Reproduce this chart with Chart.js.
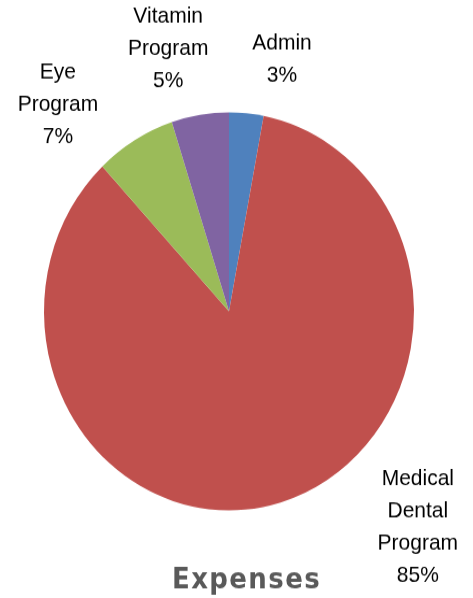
<!DOCTYPE html>
<html>
<head>
<meta charset="utf-8">
<script src="https://cdn.jsdelivr.net/npm/chart.js@4/dist/chart.umd.min.js"></script>
<style>
    html, body {
        margin: 0;
        padding: 0;
        background: #ffffff;
    }

    body {
        width: 473px;
        height: 598px;
        overflow: hidden;
    }

    /* the reference pie is slightly taller than wide, so the whole drawing is stretched */
    .chart-wrap {
        position: relative;
        width: 473px;
        height: 556px;
        transform: scale(1, 1.0755);
        transform-origin: 0 0;
    }
</style>
</head>
<body>
<div class="chart-wrap">
    <canvas id="chart"></canvas>
</div>
<script>
const categories = ['Admin', 'Medical Dental Program', 'Eye Program', 'Vitamin Program'];
const categoryLines = [['Admin'], ['Medical', 'Dental', 'Program'], ['Eye', 'Program'], ['Vitamin', 'Program']];
const percentValues = [3, 85, 7, 5];
const sliceColors = ['#4f81bd', '#c0504d', '#9bbb59', '#8064a2'];
const chartTitle = 'Expenses';

// where each label sits: angle clockwise from 12 o'clock and distance in pie radii
const labelPlacement = [
    { angle: 12.75, dist: 1.298 },
    { angle: 136.8, dist: 1.491 },
    { angle: 318.4, dist: 1.393 },
    { angle: 346.0, dist: 1.359 }
];

const sliceLabels = {
    id: 'sliceLabels',
    afterDraw(chart) {
        const ctx = chart.ctx;
        const arcs = chart.getDatasetMeta(0).data;

        ctx.save();
        ctx.fillStyle = '#000000';
        ctx.font = '21px "Liberation Sans", Arial, sans-serif';
        ctx.textAlign = 'center';
        ctx.textBaseline = 'middle';

        arcs.forEach((arc, i) => {
            const { x, y, outerRadius } = arc.getProps(['x', 'y', 'outerRadius'], true);
            const place = labelPlacement[i];
            const a = place.angle * Math.PI / 180 - Math.PI / 2;
            const cx = x + Math.cos(a) * outerRadius * place.dist;
            const cy = y + Math.sin(a) * outerRadius * place.dist;
            const lines = [...categoryLines[i], `${percentValues[i]}%`];
            const lineHeight = 30;
            const top = cy - (lines.length - 1) * lineHeight / 2;
            lines.forEach((line, j) => {
                ctx.fillText(line, cx, top + j * lineHeight);
            });
        });

        // title sits under the pie, a little right of its centre
        ctx.font = 'bold 26px "DejaVu Sans", sans-serif';
        ctx.letterSpacing = '1.4px';
        ctx.fillStyle = '#595959';
        ctx.textBaseline = 'alphabetic';
        ctx.fillText(chartTitle, 246.5, 546.7);
        ctx.restore();
    }
};

new Chart(document.getElementById('chart'), {
    type: 'pie',
    data: {
        labels: categories,
        datasets: [{
            data: percentValues,
            backgroundColor: sliceColors,
            borderWidth: 0,
            hoverBorderWidth: 0,
            hoverOffset: 0
        }]
    },
    options: {
        responsive: true,
        maintainAspectRatio: false,
        animation: false,
        events: [],
        layout: {
            padding: { left: 44, right: 59, top: 104.5, bottom: 81.5 }
        },
        plugins: {
            legend: { display: false },
            tooltip: { enabled: false },
            title: { display: false }
        }
    },
    plugins: [sliceLabels]
});
</script>
</body>
</html>
